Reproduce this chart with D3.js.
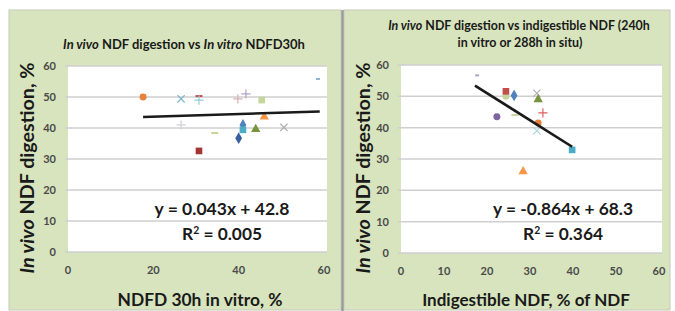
<!DOCTYPE html>
<html>
<head>
<meta charset="utf-8">
<script src="https://cdn.jsdelivr.net/npm/d3@7"></script>
<style>
  body { margin: 0; background: #fff; }
  svg { display: block; font-family: Lato, "Open Sans", sans-serif; }
</style>
</head>
<body>
<svg id="chart" width="675" height="311"></svg>
<script>
// ---- data ----
var ticksLeftX = [0, 20, 40, 60];
var ticksRightX = [0, 10, 20, 30, 40, 50, 60];
var ticksY = [0, 10, 20, 30, 40, 50, 60];

// left: in vivo NDF digestion vs in vitro NDFD30h
var leftX = [17.6, 26.5, 26.5, 30.7, 30.7, 30.7, 34.4, 39.8, 41.7, 41.0, 41.0, 40.0, 44.0, 45.4, 46.0, 50.6, 58.6];
var leftY = [50.0, 49.4, 41.0, 50.3, 49.0, 32.6, 38.4, 49.4, 51.0, 41.0, 39.4, 36.7, 39.6, 49.0, 43.6, 40.2, 55.8];
var leftShape = ["circle", "x", "plus", "dash", "plus", "square", "dash", "plus", "plus", "diamond", "square", "diamond", "triangle", "square", "triangle", "x", "dot"];
var leftColor = ["#e8803a", "#7fb8c8", "#d0d0dc", "#c0504d", "#93cddd", "#a33530", "#c3d69b", "#d9b0b0", "#b3a2c7", "#4f81bd", "#4bacc6", "#3a5f9f", "#77933c", "#c3d69b", "#f79646", "#b0b0b0", "#95b3d7"];
var leftFit = { slope: 0.043, intercept: 42.8, from: 17.6, to: 59, eq: "y = 0.043x + 42.8", r2: "0.005" };

// right: in vivo NDF digestion vs indigestible NDF
var rightX = [17.7, 24.4, 24.4, 26.3, 22.3, 26.5, 31.6, 31.9, 33.0, 31.9, 31.6, 39.8, 28.4];
var rightY = [56.7, 50.0, 51.6, 50.3, 43.5, 44.0, 51.0, 49.0, 44.7, 41.5, 39.0, 32.9, 26.0];
var rightShape = ["dot", "circle", "square", "diamond", "circle", "dash", "x", "triangle", "plus", "circle", "x", "square", "triangle"];
var rightColor = ["#b3a2c7", "#c3d69b", "#c0504d", "#4f81bd", "#8064a2", "#c3d69b", "#b0b0b0", "#77933c", "#e06060", "#e8803a", "#a9d3e0", "#4bacc6", "#f79646"];
var rightFit = { slope: -0.864, intercept: 68.3, from: 17.2, to: 39.8, eq: "y = -0.864x + 68.3", r2: "0.364" };

var svg = d3.select("#chart");

// shrink/grow a text's font-size so it spans the width seen in the picture
function fit(sel, width) {
  var node = sel.node();
  var fs = parseFloat(sel.attr("font-size"));
  var len = node.getComputedTextLength();
  if (len > 0) sel.attr("font-size", (fs * width / len).toFixed(2));
  return sel;
}

function panel(cfg) {
  var g = svg.append("g");

  g.append("rect")
    .attr("x", cfg.box[0]).attr("y", cfg.box[1])
    .attr("width", cfg.box[2]).attr("height", cfg.box[3])
    .attr("fill", "#d7e4bd")
    .attr("stroke", "#c4c9bc").attr("stroke-width", 1);

  var x = d3.scaleLinear().domain([0, 60]).range(cfg.xr);
  var y = d3.scaleLinear().domain([0, 60]).range(cfg.yr);

  // plot area
  g.append("rect")
    .attr("x", cfg.xr[0]).attr("y", cfg.yr[1])
    .attr("width", cfg.xr[1] - cfg.xr[0] + 3).attr("height", cfg.yr[0] - cfg.yr[1])
    .attr("fill", "#fff");

  // gridlines
  g.selectAll("line.grid")
    .data(ticksY)
    .enter()
    .append("line")
    .attr("class", "grid")
    .attr("x1", cfg.xr[0] - 3).attr("x2", cfg.xr[1] + 3)
    .attr("y1", (d) => y(d)).attr("y2", (d) => y(d))
    .attr("stroke", "#cfcfcf").attr("stroke-width", 1.5);

  // y tick labels
  g.selectAll("text.ytick")
    .data(ticksY)
    .enter()
    .append("text")
    .attr("class", "ytick")
    .attr("x", cfg.xr[0] - 12)
    .attr("y", (d) => y(d) + 4)
    .attr("text-anchor", "end")
    .attr("font-size", 11).attr("font-weight", "bold")
    .attr("fill", "#4a4a4a")
    .text((d) => d);

  // x tick labels
  g.selectAll("text.xtick")
    .data(cfg.xticks)
    .enter()
    .append("text")
    .attr("class", "xtick")
    .attr("x", (d) => x(d))
    .attr("y", cfg.yr[0] + 22)
    .attr("text-anchor", "middle")
    .attr("font-size", 11).attr("font-weight", "bold")
    .attr("fill", "#4a4a4a")
    .text((d) => d);

  // points
  var pts = cfg.xs.map((v, i) => ({ x: v, y: cfg.ys[i], s: cfg.shapes[i], c: cfg.colors[i] }));
  var symbols = {
    circle: d3.symbol().type(d3.symbolCircle).size(38),
    square: d3.symbol().type(d3.symbolSquare).size(44),
    diamond: d3.symbol().type(d3.symbolDiamond).size(40),
    triangle: d3.symbol().type(d3.symbolTriangle).size(38),
    x: d3.symbol().type(d3.symbolX).size(36),
    plus: d3.symbol().type(d3.symbolPlus).size(30)
  };
  g.selectAll("g.pt")
    .data(pts)
    .enter()
    .append("g")
    .attr("class", "pt")
    .attr("transform", (d) => "translate(" + x(d.x) + "," + y(d.y) + ")")
    .each(function(d) {
      var el = d3.select(this);
      if (d.s === "dash") {
        el.append("rect").attr("x", -3.5).attr("y", -1).attr("width", 7).attr("height", 2).attr("fill", d.c);
      } else if (d.s === "dot") {
        el.append("rect").attr("x", -2).attr("y", -1).attr("width", 4).attr("height", 2).attr("fill", d.c);
      } else if (d.s === "x" || d.s === "plus") {
        el.append("path").attr("d", symbols[d.s]()).attr("fill", "none")
          .attr("stroke", d.c).attr("stroke-width", 1.2);
      } else {
        el.append("path").attr("d", symbols[d.s]()).attr("fill", d.c);
      }
    });

  // trendline
  var f = cfg.fit;
  g.append("line")
    .attr("x1", x(f.from)).attr("y1", y(f.slope * f.from + f.intercept))
    .attr("x2", x(f.to)).attr("y2", y(f.slope * f.to + f.intercept))
    .attr("stroke", "#1a1a1a").attr("stroke-width", 2.6);

  // equation
  fit(g.append("text")
    .attr("x", cfg.eqX).attr("y", 215)
    .attr("text-anchor", "middle")
    .attr("font-size", 17).attr("font-weight", "bold").attr("fill", "#1a1a1a")
    .text(f.eq), cfg.eqW);
  var r2 = g.append("text")
    .attr("x", cfg.eqX).attr("y", 240)
    .attr("text-anchor", "middle")
    .attr("font-size", 17).attr("font-weight", "bold").attr("fill", "#1a1a1a");
  r2.append("tspan").text("R");
  r2.append("tspan").attr("dy", -6).attr("font-size", "0.6em").text("2");
  r2.append("tspan").attr("dy", 6).text(" = " + f.r2);
  fit(r2, 80);

  // titles
  cfg.title.forEach(function(line, i) {
    var t = g.append("text")
      .attr("x", line.cx).attr("y", line.y)
      .attr("text-anchor", "middle")
      .attr("font-size", 11).attr("font-weight", "bold").attr("fill", "#1a1a1a");
    line.parts.forEach(function(p) {
      t.append("tspan").attr("font-style", p[1] ? "italic" : "normal").text(p[0]);
    });
    fit(t, line.w);
  });

  // y axis title
  var yt = g.append("text")
    .attr("transform", "translate(" + cfg.yTitleX + ",168)rotate(-90)")
    .attr("text-anchor", "middle")
    .attr("font-size", 17).attr("font-weight", "bold").attr("fill", "#1a1a1a");
  yt.append("tspan").attr("font-style", "italic").text("In vivo");
  yt.append("tspan").text(" NDF digestion, %");
  fit(yt, 211);

  // x axis title
  fit(g.append("text")
    .attr("x", cfg.xTitle[1]).attr("y", 306)
    .attr("text-anchor", "middle")
    .attr("font-size", 17).attr("font-weight", "bold").attr("fill", "#1a1a1a")
    .text(cfg.xTitle[0]), cfg.xTitle[2]);
}

panel({
  box: [9, 10, 332, 300],
  xr: [68, 324], yr: [252, 66],
  xticks: ticksLeftX,
  xs: leftX, ys: leftY, shapes: leftShape, colors: leftColor,
  fit: leftFit, eqX: 222, eqW: 135,
  title: [{ cx: 184, y: 49, w: 242, parts: [["In vivo", true], [" NDF digestion vs ", false], ["In vitro", true], [" NDFD30h", false]] }],
  yTitleX: 34,
  xTitle: ["NDFD 30h in vitro, %", 200, 165]
});

panel({
  box: [344, 10, 326, 300],
  xr: [401, 659], yr: [253, 65],
  xticks: ticksRightX,
  xs: rightX, ys: rightY, shapes: rightShape, colors: rightColor,
  fit: rightFit, eqX: 563, eqW: 140,
  title: [
    { cx: 519, y: 30, w: 262, parts: [["In vivo", true], [" NDF digestion vs indigestible NDF (240h", false]] },
    { cx: 520, y: 47, w: 125, parts: [["in vitro or 288h in situ)", false]] }
  ],
  yTitleX: 370,
  xTitle: ["Indigestible NDF, % of NDF", 526, 208]
});

// divider between the two panels
svg.append("line")
  .attr("x1", 342.5).attr("x2", 342.5).attr("y1", 10).attr("y2", 311)
  .attr("stroke", "#9a9a9a").attr("stroke-width", 2.5);
</script>
</body>
</html>
